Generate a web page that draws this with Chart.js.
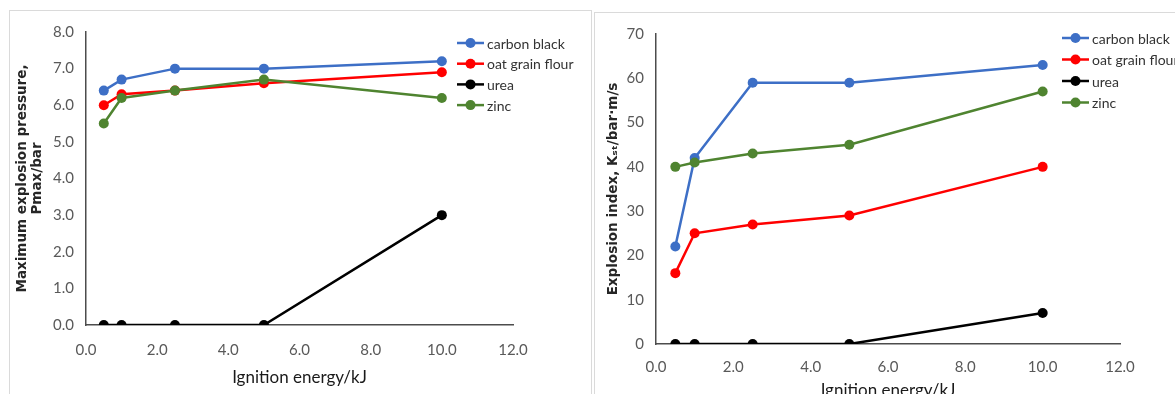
<!DOCTYPE html>
<html>
<head>
<meta charset="utf-8">
<script src="https://cdn.jsdelivr.net/npm/chart.js@4/dist/chart.umd.min.js"></script>
<style>
  html, body { margin: 0; padding: 0; background: #fff; overflow: hidden; }
  body { width: 1175px; height: 394px; position: relative; }
  .frame { position: absolute; border: 1px solid #dadada; box-sizing: border-box; }
  .box { position: absolute; }
</style>
</head>
<body>
<div class="frame" style="left:9px;top:10px;width:583px;height:400px;"></div>
<div class="frame" style="left:594px;top:12px;width:600px;height:400px;"></div>
<div class="box" style="left:10px;top:11px;width:580px;height:383px;"><canvas id="pmaxChart"></canvas></div>
<div class="box" style="left:595px;top:13px;width:580px;height:390px;"><canvas id="kstChart"></canvas></div>
<script>
/* ================= DATA ================= */
const energies = [0.5, 1, 2.5, 5, 10];
const seriesNames = ["carbon black", "oat grain flour", "urea", "zinc"];
const seriesColors = ["#3d6fc6", "#ff0000", "#000000", "#4f8430"];

// Pmax / bar
const pmaxCarbonBlack = [6.4, 6.7, 7.0, 7.0, 7.2];
const pmaxOatFlour = [6.0, 6.3, 6.4, 6.6, 6.9];
const pmaxUrea = [0, 0, 0, 0, 3.0];
const pmaxZinc = [5.5, 6.2, 6.4, 6.7, 6.2];

// Kst / bar m/s
const kstCarbonBlack = [22, 42, 59, 59, 63];
const kstOatFlour = [16, 25, 27, 29, 40];
const kstUrea = [0, 0, 0, 0, 7];
const kstZinc = [40, 41, 43, 45, 57];

const xTicks = [0, 2, 4, 6, 8, 10, 12];

const labelFont = "Lato, 'Liberation Sans', sans-serif";
const boldTitle = "'DejaVu Sans', Verdana, sans-serif";

/* ================= LEGEND (line + marker) ================= */
const lineLegend = {
  id: "lineLegend",
  afterDraw(chart, args, opts) {
    const ctx = chart.ctx;
    ctx.save();
    ctx.font = "14px " + labelFont;
    ctx.textBaseline = "middle";
    ctx.textAlign = "left";
    chart.data.datasets.forEach((ds, i) => {
      const y = opts.y + i * opts.step;
      ctx.strokeStyle = ds.borderColor;
      ctx.lineWidth = 2.5;
      ctx.beginPath();
      ctx.moveTo(opts.x, y);
      ctx.lineTo(opts.x + 27, y);
      ctx.stroke();
      ctx.fillStyle = ds.borderColor;
      ctx.beginPath();
      ctx.arc(opts.x + 13.5, y, 5, 0, Math.PI * 2);
      ctx.fill();
      ctx.fillStyle = "#333333";
      ctx.fillText(ds.label, opts.x + 30, y + 1);
    });
    ctx.restore();
  }
};

function buildDatasets(seriesList) {
  return seriesList.map((vals, i) => ({
    label: seriesNames[i],
    data: energies.map((e, j) => ({ x: e, y: vals[j] })),
    borderColor: seriesColors[i],
    backgroundColor: seriesColors[i],
    borderWidth: 2.5,
    pointRadius: 5,
    pointHoverRadius: 5,
    pointBorderWidth: 0,
    tension: 0,
    order: seriesList.length - i
  }));
}

function makeChart(id, seriesList, cfg) {
  return new Chart(document.getElementById(id), {
    type: "line",
    data: { datasets: buildDatasets(seriesList) },
    plugins: [lineLegend],
    options: {
      responsive: true,
      maintainAspectRatio: false,
      animation: false,
      events: [],
      layout: { padding: cfg.padding },
      plugins: {
        legend: { display: false },
        tooltip: { enabled: false },
        lineLegend: cfg.legend
      },
      scales: {
        x: {
          type: "linear",
          min: 0,
          max: 12,
          afterBuildTicks: s => { s.ticks = xTicks.map(v => ({ value: v })); },
          afterFit: s => { s.height = cfg.xHeight; },
          grid: { display: false, drawTicks: false },
          border: { display: true, color: "#4d4d4d", width: 1.5 },
          ticks: {
            padding: cfg.xTickPad,
            color: "#595959",
            font: { family: labelFont, size: 15 },
            callback: v => Number(v).toFixed(1)
          },
          title: {
            display: true,
            text: "Ignition energy/kJ",
            color: "#1a1a1a",
            font: { family: labelFont, size: 17 },
            padding: { top: 0, bottom: cfg.xTitlePad }
          }
        },
        y: {
          min: 0,
          max: cfg.yMax,
          afterBuildTicks: s => { s.ticks = cfg.yTicks.map(v => ({ value: v })); },
          afterFit: s => { s.width = cfg.yWidth; },
          grid: { display: false, drawTicks: false },
          border: { display: true, color: "#4d4d4d", width: 1.5 },
          ticks: {
            padding: 12,
            color: "#595959",
            font: { family: labelFont, size: 15 },
            callback: cfg.yFormat
          },
          title: {
            display: true,
            text: cfg.yTitle,
            color: "#262626",
            font: { family: boldTitle, size: 13.5, weight: "bold", lineHeight: 1.12 },
            padding: { top: cfg.yTitlePad, bottom: 0 }
          }
        }
      }
    }
  });
}

/* ================= LEFT: Pmax ================= */
makeChart("pmaxChart", [pmaxCarbonBlack, pmaxOatFlour, pmaxUrea, pmaxZinc], {
  padding: { top: 19, right: 77, bottom: 0, left: 0 },
  xHeight: 69,
  xTickPad: 16,
  xTitlePad: 6,
  yWidth: 76,
  yMax: 8,
  yTicks: [0, 1, 2, 3, 4, 5, 6, 7, 8],
  yFormat: v => Number(v).toFixed(1),
  yTitle: ["Maximum explosion pressure,", "Pmax/bar"],
  yTitlePad: 4.5,
  legend: { x: 447, y: 32, step: 20.7 }
});

/* ================= RIGHT: Kst ================= */
makeChart("kstChart", [kstCarbonBlack, kstOatFlour, kstUrea, kstZinc], {
  padding: { top: 20, right: 55, bottom: 0, left: 0 },
  xHeight: 59,
  xTickPad: 14,
  xTitlePad: 2,
  yWidth: 61,
  yMax: 70,
  yTicks: [0, 10, 20, 30, 40, 50, 60, 70],
  yFormat: v => String(v),
  yTitle: "Explosion index, K\u209B\u209C/bar\u00B7m/s",
  yTitlePad: 11,
  legend: { x: 467, y: 25, step: 21.5 }
});
</script>
</body>
</html>
